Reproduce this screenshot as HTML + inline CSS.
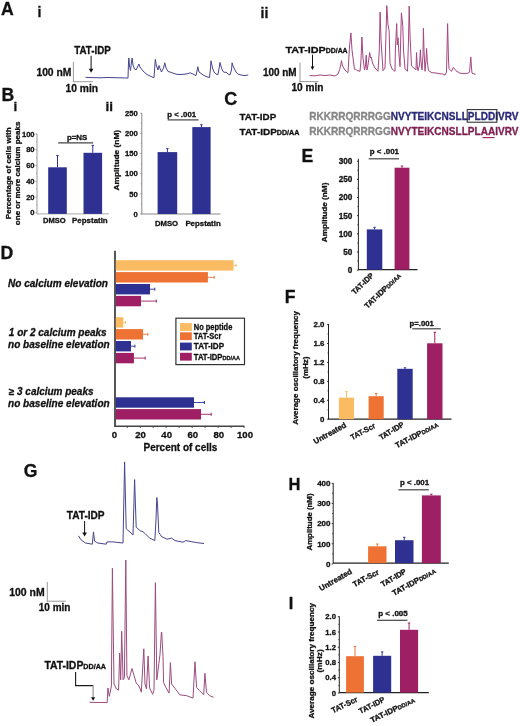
<!DOCTYPE html>
<html><head><meta charset="utf-8"><style>
html,body{margin:0;padding:0;background:#fff;}
body{width:520px;height:726px;overflow:hidden;}
svg{display:block;filter:blur(0.3px);font-family:"Liberation Sans",sans-serif;}
</style></head><body>
<svg width="520" height="726" viewBox="0 0 520 726">
<rect width="520" height="726" fill="#fff"/>
<text x="0.90" y="15.00" font-size="17.6" fill="#111" font-weight="bold" stroke="#111" stroke-width="0.3" stroke-linejoin="round" >A</text>
<text x="37.60" y="17.30" font-size="14" fill="#111" font-weight="bold" stroke="#111" stroke-width="0.3" stroke-linejoin="round" >i</text>
<text x="260.60" y="17.50" font-size="14" fill="#111" font-weight="bold" stroke="#111" stroke-width="0.3" stroke-linejoin="round" >ii</text>
<text x="1.40" y="101.30" font-size="17.6" fill="#111" font-weight="bold" stroke="#111" stroke-width="0.3" stroke-linejoin="round" >B</text>
<text x="13.40" y="111.40" font-size="13.5" fill="#111" font-weight="bold" stroke="#111" stroke-width="0.3" stroke-linejoin="round" >i</text>
<text x="105.60" y="110.80" font-size="13.5" fill="#111" font-weight="bold" stroke="#111" stroke-width="0.3" stroke-linejoin="round" >ii</text>
<text x="224.30" y="105.20" font-size="18" fill="#111" font-weight="bold" stroke="#111" stroke-width="0.3" stroke-linejoin="round" >C</text>
<text x="0.60" y="258.80" font-size="17.6" fill="#111" font-weight="bold" stroke="#111" stroke-width="0.3" stroke-linejoin="round" >D</text>
<text x="301.50" y="161.90" font-size="17.6" fill="#111" font-weight="bold" stroke="#111" stroke-width="0.3" stroke-linejoin="round" >E</text>
<text x="284.80" y="302.70" font-size="17.6" fill="#111" font-weight="bold" stroke="#111" stroke-width="0.3" stroke-linejoin="round" >F</text>
<text x="288.60" y="489.60" font-size="16.5" fill="#111" font-weight="bold" stroke="#111" stroke-width="0.3" stroke-linejoin="round" >H</text>
<text x="288.80" y="608.80" font-size="16.3" fill="#111" font-weight="bold" stroke="#111" stroke-width="0.3" stroke-linejoin="round" >I</text>
<text x="23.70" y="476.50" font-size="17.6" fill="#111" font-weight="bold" stroke="#111" stroke-width="0.3" stroke-linejoin="round" >G</text>
<text x="74.30" y="53.70" font-size="10.3" fill="#111" font-weight="bold" textLength="36.40" lengthAdjust="spacingAndGlyphs" stroke="#111" stroke-width="0.3" stroke-linejoin="round" >TAT-IDP</text>
<line x1="91.10" y1="55.80" x2="91.10" y2="69.30" stroke="#111" stroke-width="1"/>
<path d="M88.8,68.8 L93.39999999999999,68.8 L91.1,72.8 Z" fill="#111"/>
<text x="36.40" y="75.50" font-size="10" fill="#111" font-weight="bold" textLength="35.00" lengthAdjust="spacingAndGlyphs" stroke="#111" stroke-width="0.3" stroke-linejoin="round" >100 nM</text>
<line x1="73.40" y1="62.00" x2="73.40" y2="82.00" stroke="#999" stroke-width="1"/>
<line x1="72.90" y1="81.70" x2="92.90" y2="81.70" stroke="#999" stroke-width="1"/>
<text x="65.60" y="91.60" font-size="10.3" fill="#111" font-weight="bold" textLength="32.50" lengthAdjust="spacingAndGlyphs" stroke="#111" stroke-width="0.3" stroke-linejoin="round" >10 min</text>
<polyline points="85.5,77.3 92,77.6 100,77.8 108,77.5 115,77.7 122,77.9 128,78 128.5,62 128.9,58 129.5,66 130.5,70.5 131.5,62 132.1,58 133,65 134.5,69 136,70 138,66 138.8,64 140,67 143,71 147,74.5 152,77 154,77.6 155.3,59.4 156.5,66 158,70 159,65.5 160.2,69 161.5,72 163.5,68 164.8,62.8 166,68 168,71.5 170,72 172,72.8 174,73.4 176,74.2 180,74.5 185,74.2 188,73.5 190.4,72.9 193,74 196,75.6 197.2,70 197.8,66.8 199,72 203,74.9 206,76.5 209.5,77.6 210.5,68 211,60.8 212.5,68 214,72 216,74.2 218,74.5 219.3,67 220,62.4 221.5,68 223,71.5 225,72.5 226,72 228,74 230,74.9 231.5,70 232.1,62.8 233,66 234,68 236,72 238,74.2 241,75 245,75.6 248.3,74.9" fill="none" stroke="#45458f" stroke-width="1.0" stroke-linejoin="round" opacity="1"/>
<text x="285.40" y="52.50" font-size="9.9" fill="#111" font-weight="bold" textLength="62.20" lengthAdjust="spacingAndGlyphs" stroke="#111" stroke-width="0.3" stroke-linejoin="round" >TAT-IDP<tspan font-size="6.3">DD/AA</tspan></text>
<line x1="312.50" y1="54.70" x2="312.50" y2="67.10" stroke="#111" stroke-width="1"/>
<path d="M310.6,66.6 L314.4,66.6 L312.5,70 Z" fill="#111"/>
<text x="262.90" y="75.50" font-size="10" fill="#111" font-weight="bold" textLength="33.70" lengthAdjust="spacingAndGlyphs" stroke="#111" stroke-width="0.3" stroke-linejoin="round" >100 nM</text>
<line x1="300.00" y1="62.50" x2="300.00" y2="82.00" stroke="#999" stroke-width="1"/>
<line x1="299.50" y1="81.60" x2="318.50" y2="81.60" stroke="#999" stroke-width="1"/>
<text x="291.40" y="91.20" font-size="10.2" fill="#111" font-weight="bold" textLength="32.00" lengthAdjust="spacingAndGlyphs" stroke="#111" stroke-width="0.3" stroke-linejoin="round" >10 min</text>
<polyline points="309.6,75.5 315,75.8 320,75 325,75.5 330,75 335,76 338,74 339.7,69.3 340.5,66 341.5,60.6 342.5,66 345,70 348,72.7 349.5,47 350.9,33 352,50 354.5,69.3 355.5,69 357,70.5 360,71.3 361,60 361.9,37 363,58 364.5,70 365.5,66 366.2,55.2 367,70 368,65 369.7,52.5 370.5,58 371.3,57.2 372.5,63 375,68 378,71.3 379.3,50 380.1,12.1 381,40 383,70.7 385,68 386.8,5.7 388,25 389.1,30.3 390,63.3 392,69 395,71.3 395.4,49 396.7,23.6 397.3,45 398,37.7 399,55 400,66.6 401.4,12.8 402.8,26.2 403.5,50 405,68.6 407.5,71.3 408.5,40 409.2,6 410,35 411.5,66 414,68 416,70 416.5,52.5 417.2,65 418,70.7 419.5,65 420.4,49.8 421,62 422,70 423,55 423.4,28.3 424,50 425,71.3 426,60 426.6,48.5 427.3,62 428.5,70.7 432,72.7 436,73 440,73.7 443,74 445,75.1 446.5,72 447.6,23.6 448.5,60 449,68.8 451.5,71.25 453.3,67.4 456,70.8 460,73.2 464,73.5 468,73.2 469.5,72.2 470.8,57.1 471.5,68 472,73.2 475.6,74.4" fill="none" stroke="#a4467f" stroke-width="1.0" stroke-linejoin="round" opacity="1"/>
<line x1="37.00" y1="133.90" x2="37.00" y2="214.40" stroke="#999" stroke-width="1"/>
<line x1="35.50" y1="212.80" x2="37.00" y2="212.80" stroke="#999" stroke-width="0.9"/>
<text x="34.60" y="215.49" font-size="7.6" fill="#111" font-weight="bold" text-anchor="end" stroke="#111" stroke-width="0.3" stroke-linejoin="round" >0</text>
<line x1="35.50" y1="197.02" x2="37.00" y2="197.02" stroke="#999" stroke-width="0.9"/>
<text x="34.60" y="199.71" font-size="7.6" fill="#111" font-weight="bold" text-anchor="end" stroke="#111" stroke-width="0.3" stroke-linejoin="round" >20</text>
<line x1="35.50" y1="181.24" x2="37.00" y2="181.24" stroke="#999" stroke-width="0.9"/>
<text x="34.60" y="183.93" font-size="7.6" fill="#111" font-weight="bold" text-anchor="end" stroke="#111" stroke-width="0.3" stroke-linejoin="round" >40</text>
<line x1="35.50" y1="165.46" x2="37.00" y2="165.46" stroke="#999" stroke-width="0.9"/>
<text x="34.60" y="168.15" font-size="7.6" fill="#111" font-weight="bold" text-anchor="end" stroke="#111" stroke-width="0.3" stroke-linejoin="round" >60</text>
<line x1="35.50" y1="149.68" x2="37.00" y2="149.68" stroke="#999" stroke-width="0.9"/>
<text x="34.60" y="152.37" font-size="7.6" fill="#111" font-weight="bold" text-anchor="end" stroke="#111" stroke-width="0.3" stroke-linejoin="round" >80</text>
<line x1="35.50" y1="133.90" x2="37.00" y2="133.90" stroke="#999" stroke-width="0.9"/>
<text x="34.60" y="136.59" font-size="7.6" fill="#111" font-weight="bold" text-anchor="end" stroke="#111" stroke-width="0.3" stroke-linejoin="round" >100</text>
<line x1="36.00" y1="204.91" x2="37.00" y2="204.91" stroke="#999" stroke-width="0.8"/>
<line x1="36.00" y1="189.13" x2="37.00" y2="189.13" stroke="#999" stroke-width="0.8"/>
<line x1="36.00" y1="173.35" x2="37.00" y2="173.35" stroke="#999" stroke-width="0.8"/>
<line x1="36.00" y1="157.57" x2="37.00" y2="157.57" stroke="#999" stroke-width="0.8"/>
<line x1="36.00" y1="141.79" x2="37.00" y2="141.79" stroke="#999" stroke-width="0.8"/>
<line x1="37.00" y1="213.90" x2="109.00" y2="213.90" stroke="#aaa" stroke-width="1"/>
<rect x="48.20" y="167.30" width="18.60" height="46.60" fill="#2e3192"/>
<line x1="57.50" y1="155.50" x2="57.50" y2="167.30" stroke="#2e3192" stroke-width="1"/>
<line x1="56.30" y1="155.50" x2="58.70" y2="155.50" stroke="#2e3192" stroke-width="1"/>
<rect x="83.50" y="152.80" width="18.60" height="61.10" fill="#2e3192"/>
<line x1="92.80" y1="145.40" x2="92.80" y2="152.80" stroke="#2e3192" stroke-width="1"/>
<line x1="91.60" y1="145.40" x2="94.00" y2="145.40" stroke="#2e3192" stroke-width="1"/>
<line x1="58.20" y1="142.80" x2="93.20" y2="142.80" stroke="#444" stroke-width="1.2"/>
<text x="66.90" y="140.00" font-size="7.3" fill="#111" font-weight="bold" textLength="20.50" lengthAdjust="spacingAndGlyphs" stroke="#111" stroke-width="0.3" stroke-linejoin="round" >p=NS</text>
<text x="43.00" y="223.30" font-size="7.8" fill="#111" font-weight="bold" textLength="22.70" lengthAdjust="spacingAndGlyphs" stroke="#111" stroke-width="0.3" stroke-linejoin="round" >DMSO</text>
<text x="72.10" y="223.30" font-size="7.8" fill="#111" font-weight="bold" textLength="35.60" lengthAdjust="spacingAndGlyphs" stroke="#111" stroke-width="0.3" stroke-linejoin="round" >Pepstatin</text>
<text x="0" y="0" font-size="8.1" fill="#111" font-weight="bold" text-anchor="middle" textLength="91.90" lengthAdjust="spacingAndGlyphs" transform="translate(10.60,173.25) rotate(-90.00)" stroke="#111" stroke-width="0.3" stroke-linejoin="round" >Percentage of cells with</text>
<text x="0" y="0" font-size="8.1" fill="#111" font-weight="bold" text-anchor="middle" textLength="103.70" lengthAdjust="spacingAndGlyphs" transform="translate(20.20,173.35) rotate(-90.00)" stroke="#111" stroke-width="0.3" stroke-linejoin="round" >one or more calcium peaks</text>
<line x1="141.80" y1="113.10" x2="141.80" y2="214.50" stroke="#888" stroke-width="1"/>
<line x1="140.30" y1="214.00" x2="141.80" y2="214.00" stroke="#888" stroke-width="0.9"/>
<text x="137.80" y="216.73" font-size="7.7" fill="#111" font-weight="bold" text-anchor="end" stroke="#111" stroke-width="0.3" stroke-linejoin="round" >0</text>
<line x1="140.30" y1="193.84" x2="141.80" y2="193.84" stroke="#888" stroke-width="0.9"/>
<text x="137.80" y="196.57" font-size="7.7" fill="#111" font-weight="bold" text-anchor="end" stroke="#111" stroke-width="0.3" stroke-linejoin="round" >50</text>
<line x1="140.30" y1="173.68" x2="141.80" y2="173.68" stroke="#888" stroke-width="0.9"/>
<text x="137.80" y="176.41" font-size="7.7" fill="#111" font-weight="bold" text-anchor="end" stroke="#111" stroke-width="0.3" stroke-linejoin="round" >100</text>
<line x1="140.30" y1="153.52" x2="141.80" y2="153.52" stroke="#888" stroke-width="0.9"/>
<text x="137.80" y="156.25" font-size="7.7" fill="#111" font-weight="bold" text-anchor="end" stroke="#111" stroke-width="0.3" stroke-linejoin="round" >150</text>
<line x1="140.30" y1="133.36" x2="141.80" y2="133.36" stroke="#888" stroke-width="0.9"/>
<text x="137.80" y="136.09" font-size="7.7" fill="#111" font-weight="bold" text-anchor="end" stroke="#111" stroke-width="0.3" stroke-linejoin="round" >200</text>
<line x1="140.30" y1="113.20" x2="141.80" y2="113.20" stroke="#888" stroke-width="0.9"/>
<text x="137.80" y="115.93" font-size="7.7" fill="#111" font-weight="bold" text-anchor="end" stroke="#111" stroke-width="0.3" stroke-linejoin="round" >250</text>
<line x1="140.80" y1="203.92" x2="141.80" y2="203.92" stroke="#888" stroke-width="0.8"/>
<line x1="140.80" y1="183.76" x2="141.80" y2="183.76" stroke="#888" stroke-width="0.8"/>
<line x1="140.80" y1="163.60" x2="141.80" y2="163.60" stroke="#888" stroke-width="0.8"/>
<line x1="140.80" y1="143.44" x2="141.80" y2="143.44" stroke="#888" stroke-width="0.8"/>
<line x1="140.80" y1="123.28" x2="141.80" y2="123.28" stroke="#888" stroke-width="0.8"/>
<line x1="141.80" y1="214.00" x2="220.50" y2="214.00" stroke="#888" stroke-width="1"/>
<rect x="157.60" y="152.10" width="19.60" height="61.90" fill="#2e3192"/>
<line x1="167.40" y1="148.60" x2="167.40" y2="152.10" stroke="#2e3192" stroke-width="1"/>
<line x1="166.20" y1="148.60" x2="168.60" y2="148.60" stroke="#2e3192" stroke-width="1"/>
<rect x="192.30" y="127.10" width="18.30" height="86.90" fill="#2e3192"/>
<line x1="201.45" y1="124.70" x2="201.45" y2="127.10" stroke="#2e3192" stroke-width="1"/>
<line x1="200.25" y1="124.70" x2="202.65" y2="124.70" stroke="#2e3192" stroke-width="1"/>
<line x1="167.70" y1="119.90" x2="198.50" y2="119.90" stroke="#444" stroke-width="1.2"/>
<text x="167.20" y="116.50" font-size="7.4" fill="#111" font-weight="bold" textLength="28.90" lengthAdjust="spacingAndGlyphs" stroke="#111" stroke-width="0.3" stroke-linejoin="round" >p &lt; .001</text>
<text x="155.00" y="226.10" font-size="7.8" fill="#111" font-weight="bold" textLength="23.10" lengthAdjust="spacingAndGlyphs" stroke="#111" stroke-width="0.3" stroke-linejoin="round" >DMSO</text>
<text x="185.40" y="226.10" font-size="7.8" fill="#111" font-weight="bold" textLength="35.30" lengthAdjust="spacingAndGlyphs" stroke="#111" stroke-width="0.3" stroke-linejoin="round" >Pepstatin</text>
<text x="0" y="0" font-size="8.1" fill="#111" font-weight="bold" text-anchor="middle" textLength="60.60" lengthAdjust="spacingAndGlyphs" transform="translate(119.10,160.20) rotate(-90.00)" stroke="#111" stroke-width="0.3" stroke-linejoin="round" >Amplitude (nM)</text>
<text x="239.60" y="120.20" font-size="9.5" fill="#111" font-weight="bold" textLength="36.60" lengthAdjust="spacingAndGlyphs" stroke="#111" stroke-width="0.3" stroke-linejoin="round" >TAT-IDP</text>
<text x="239.60" y="135.00" font-size="9.5" fill="#111" font-weight="bold" textLength="59.70" lengthAdjust="spacingAndGlyphs" stroke="#111" stroke-width="0.3" stroke-linejoin="round" >TAT-IDP<tspan font-size="6.8">DD/AA</tspan></text>
<text x="309.20" y="120.40" font-size="10" fill="#111" font-weight="bold" textLength="209.30" lengthAdjust="spacingAndGlyphs" stroke="#111" stroke-width="0.3" stroke-linejoin="round" ><tspan stroke-width="0.3" fill="#858585" stroke="#858585">RKKRRQRRRGG</tspan><tspan stroke-width="0.3" fill="#2a2a78" stroke="#2a2a78">NVYTEIKCNSLLPLDDIVRV</tspan></text>
<text x="309.20" y="135.40" font-size="10" fill="#111" font-weight="bold" textLength="209.30" lengthAdjust="spacingAndGlyphs" stroke="#111" stroke-width="0.3" stroke-linejoin="round" ><tspan stroke-width="0.3" fill="#858585" stroke="#858585">RKKRRQRRRGG</tspan><tspan stroke-width="0.3" fill="#7e1e50" stroke="#7e1e50">NVYTEIKCNSLLPLAAIVRV</tspan></text>
<rect x="467.2" y="109.6" width="29.7" height="12.6" fill="none" stroke="#222" stroke-width="1"/>
<line x1="482.50" y1="137.60" x2="494.60" y2="137.60" stroke="#9e1f63" stroke-width="1.1"/>
<line x1="115.00" y1="250.80" x2="115.00" y2="426.80" stroke="#444" stroke-width="1.8"/>
<line x1="114.20" y1="426.20" x2="244.30" y2="426.20" stroke="#444" stroke-width="1.4"/>
<line x1="127.28" y1="426.20" x2="127.28" y2="428.00" stroke="#444" stroke-width="0.9"/>
<line x1="140.25" y1="426.20" x2="140.25" y2="428.00" stroke="#444" stroke-width="0.9"/>
<line x1="153.22" y1="426.20" x2="153.22" y2="428.00" stroke="#444" stroke-width="0.9"/>
<line x1="166.20" y1="426.20" x2="166.20" y2="428.00" stroke="#444" stroke-width="0.9"/>
<line x1="179.18" y1="426.20" x2="179.18" y2="428.00" stroke="#444" stroke-width="0.9"/>
<line x1="192.15" y1="426.20" x2="192.15" y2="428.00" stroke="#444" stroke-width="0.9"/>
<line x1="205.12" y1="426.20" x2="205.12" y2="428.00" stroke="#444" stroke-width="0.9"/>
<line x1="218.10" y1="426.20" x2="218.10" y2="428.00" stroke="#444" stroke-width="0.9"/>
<line x1="231.07" y1="426.20" x2="231.07" y2="428.00" stroke="#444" stroke-width="0.9"/>
<line x1="244.05" y1="426.20" x2="244.05" y2="428.00" stroke="#444" stroke-width="0.9"/>
<text x="114.40" y="437.50" font-size="9.6" fill="#111" font-weight="bold" text-anchor="middle" stroke="#111" stroke-width="0.3" stroke-linejoin="round" >0</text>
<text x="140.52" y="437.50" font-size="9.6" fill="#111" font-weight="bold" text-anchor="middle" stroke="#111" stroke-width="0.3" stroke-linejoin="round" >20</text>
<text x="166.64" y="437.50" font-size="9.6" fill="#111" font-weight="bold" text-anchor="middle" stroke="#111" stroke-width="0.3" stroke-linejoin="round" >40</text>
<text x="192.76" y="437.50" font-size="9.6" fill="#111" font-weight="bold" text-anchor="middle" stroke="#111" stroke-width="0.3" stroke-linejoin="round" >60</text>
<text x="218.88" y="437.50" font-size="9.6" fill="#111" font-weight="bold" text-anchor="middle" stroke="#111" stroke-width="0.3" stroke-linejoin="round" >80</text>
<text x="245.00" y="437.50" font-size="9.6" fill="#111" font-weight="bold" text-anchor="middle" stroke="#111" stroke-width="0.3" stroke-linejoin="round" >100</text>
<text x="143.50" y="451.30" font-size="10" fill="#111" font-weight="bold" textLength="73.80" lengthAdjust="spacingAndGlyphs" stroke="#111" stroke-width="0.3" stroke-linejoin="round" >Percent of cells</text>
<rect x="115.80" y="260.20" width="117.80" height="10.40" fill="#fbbb62"/>
<line x1="233.60" y1="265.40" x2="236.10" y2="265.40" stroke="#fbbb62" stroke-width="0.9"/>
<line x1="236.10" y1="263.90" x2="236.10" y2="266.90" stroke="#fbbb62" stroke-width="1"/>
<rect x="115.80" y="272.10" width="92.10" height="10.40" fill="#ee7233"/>
<line x1="207.90" y1="277.30" x2="214.20" y2="277.30" stroke="#ee7233" stroke-width="0.9"/>
<line x1="214.20" y1="275.80" x2="214.20" y2="278.80" stroke="#ee7233" stroke-width="1"/>
<rect x="115.80" y="284.00" width="34.20" height="10.40" fill="#2e3192"/>
<line x1="150.00" y1="289.20" x2="154.80" y2="289.20" stroke="#2e3192" stroke-width="0.9"/>
<line x1="154.80" y1="287.70" x2="154.80" y2="290.70" stroke="#2e3192" stroke-width="1"/>
<rect x="115.80" y="295.90" width="25.20" height="10.40" fill="#9e1f63"/>
<line x1="141.00" y1="301.10" x2="156.30" y2="301.10" stroke="#9e1f63" stroke-width="0.9"/>
<line x1="156.30" y1="299.60" x2="156.30" y2="302.60" stroke="#9e1f63" stroke-width="1"/>
<rect x="115.80" y="317.20" width="7.50" height="10.40" fill="#fbbb62"/>
<line x1="123.30" y1="322.40" x2="125.50" y2="322.40" stroke="#fbbb62" stroke-width="0.9"/>
<line x1="125.50" y1="320.90" x2="125.50" y2="323.90" stroke="#fbbb62" stroke-width="1"/>
<rect x="115.80" y="329.10" width="27.20" height="10.40" fill="#ee7233"/>
<line x1="143.00" y1="334.30" x2="147.80" y2="334.30" stroke="#ee7233" stroke-width="0.9"/>
<line x1="147.80" y1="332.80" x2="147.80" y2="335.80" stroke="#ee7233" stroke-width="1"/>
<rect x="115.80" y="341.00" width="15.20" height="10.40" fill="#2e3192"/>
<line x1="131.00" y1="346.20" x2="134.90" y2="346.20" stroke="#2e3192" stroke-width="0.9"/>
<line x1="134.90" y1="344.70" x2="134.90" y2="347.70" stroke="#2e3192" stroke-width="1"/>
<rect x="115.80" y="352.90" width="18.10" height="10.40" fill="#9e1f63"/>
<line x1="133.90" y1="358.10" x2="145.20" y2="358.10" stroke="#9e1f63" stroke-width="0.9"/>
<line x1="145.20" y1="356.60" x2="145.20" y2="359.60" stroke="#9e1f63" stroke-width="1"/>
<rect x="115.80" y="397.30" width="78.20" height="10.40" fill="#2e3192"/>
<line x1="194.00" y1="402.50" x2="204.40" y2="402.50" stroke="#2e3192" stroke-width="0.9"/>
<line x1="204.40" y1="401.00" x2="204.40" y2="404.00" stroke="#2e3192" stroke-width="1"/>
<rect x="115.80" y="409.10" width="85.20" height="10.40" fill="#9e1f63"/>
<line x1="201.00" y1="414.30" x2="211.20" y2="414.30" stroke="#9e1f63" stroke-width="0.9"/>
<line x1="211.20" y1="412.80" x2="211.20" y2="415.80" stroke="#9e1f63" stroke-width="1"/>
<text x="8.00" y="286.90" font-size="10" fill="#111" font-weight="bold" font-style="italic" textLength="100.00" lengthAdjust="spacingAndGlyphs" stroke="#111" stroke-width="0.3" stroke-linejoin="round" >No calcium elevation</text>
<text x="8.80" y="336.20" font-size="10" fill="#111" font-weight="bold" font-style="italic" textLength="97.90" lengthAdjust="spacingAndGlyphs" stroke="#111" stroke-width="0.3" stroke-linejoin="round" >1 or 2 calcium peaks</text>
<text x="8.00" y="347.70" font-size="10" fill="#111" font-weight="bold" font-style="italic" textLength="101.70" lengthAdjust="spacingAndGlyphs" stroke="#111" stroke-width="0.3" stroke-linejoin="round" >no baseline elevation</text>
<text x="8.80" y="395.00" font-size="10" fill="#111" font-weight="bold" font-style="italic" textLength="84.70" lengthAdjust="spacingAndGlyphs" stroke="#111" stroke-width="0.3" stroke-linejoin="round" >≥ 3 calcium peaks</text>
<text x="8.00" y="406.60" font-size="10" fill="#111" font-weight="bold" font-style="italic" textLength="101.70" lengthAdjust="spacingAndGlyphs" stroke="#111" stroke-width="0.3" stroke-linejoin="round" >no baseline elevation</text>
<rect x="175.9" y="318.2" width="68.6" height="46.4" fill="#fff" stroke="#333" stroke-width="1.2"/>
<rect x="180.00" y="323.10" width="11.80" height="7.80" fill="#fbbb62"/>
<text x="193.80" y="329.70" font-size="8.3" fill="#111" font-weight="bold" textLength="38.50" lengthAdjust="spacingAndGlyphs" stroke="#111" stroke-width="0.3" stroke-linejoin="round" >No peptide</text>
<rect x="180.00" y="332.30" width="11.80" height="7.80" fill="#ee7233"/>
<text x="193.80" y="338.90" font-size="8.3" fill="#111" font-weight="bold" textLength="27.50" lengthAdjust="spacingAndGlyphs" stroke="#111" stroke-width="0.3" stroke-linejoin="round" >TAT-Scr</text>
<rect x="180.00" y="342.60" width="11.80" height="7.80" fill="#2e3192"/>
<text x="193.80" y="349.20" font-size="8.3" fill="#111" font-weight="bold" textLength="30.30" lengthAdjust="spacingAndGlyphs" stroke="#111" stroke-width="0.3" stroke-linejoin="round" >TAT-IDP</text>
<rect x="180.00" y="352.80" width="11.80" height="7.80" fill="#9e1f63"/>
<text x="193.80" y="359.60" font-size="8.3" fill="#111" font-weight="bold" textLength="46.20" lengthAdjust="spacingAndGlyphs" stroke="#111" stroke-width="0.3" stroke-linejoin="round" >TAT-IDP<tspan font-size="6.0">DD/AA</tspan></text>
<line x1="358.40" y1="158.80" x2="358.40" y2="270.20" stroke="#222" stroke-width="1"/>
<line x1="356.90" y1="270.10" x2="358.40" y2="270.10" stroke="#222" stroke-width="0.9"/>
<text x="352.40" y="273.00" font-size="8.2" fill="#111" font-weight="bold" text-anchor="end" stroke="#111" stroke-width="0.3" stroke-linejoin="round" >0</text>
<line x1="356.90" y1="251.95" x2="358.40" y2="251.95" stroke="#222" stroke-width="0.9"/>
<text x="352.40" y="254.85" font-size="8.2" fill="#111" font-weight="bold" text-anchor="end" stroke="#111" stroke-width="0.3" stroke-linejoin="round" >50</text>
<line x1="356.90" y1="233.80" x2="358.40" y2="233.80" stroke="#222" stroke-width="0.9"/>
<text x="352.40" y="236.70" font-size="8.2" fill="#111" font-weight="bold" text-anchor="end" stroke="#111" stroke-width="0.3" stroke-linejoin="round" >100</text>
<line x1="356.90" y1="215.65" x2="358.40" y2="215.65" stroke="#222" stroke-width="0.9"/>
<text x="352.40" y="218.55" font-size="8.2" fill="#111" font-weight="bold" text-anchor="end" stroke="#111" stroke-width="0.3" stroke-linejoin="round" >150</text>
<line x1="356.90" y1="197.50" x2="358.40" y2="197.50" stroke="#222" stroke-width="0.9"/>
<text x="352.40" y="200.40" font-size="8.2" fill="#111" font-weight="bold" text-anchor="end" stroke="#111" stroke-width="0.3" stroke-linejoin="round" >200</text>
<line x1="356.90" y1="179.35" x2="358.40" y2="179.35" stroke="#222" stroke-width="0.9"/>
<text x="352.40" y="182.25" font-size="8.2" fill="#111" font-weight="bold" text-anchor="end" stroke="#111" stroke-width="0.3" stroke-linejoin="round" >250</text>
<line x1="356.90" y1="161.20" x2="358.40" y2="161.20" stroke="#222" stroke-width="0.9"/>
<text x="352.40" y="164.10" font-size="8.2" fill="#111" font-weight="bold" text-anchor="end" stroke="#111" stroke-width="0.3" stroke-linejoin="round" >300</text>
<line x1="357.40" y1="261.03" x2="358.40" y2="261.03" stroke="#222" stroke-width="0.8"/>
<line x1="357.40" y1="242.88" x2="358.40" y2="242.88" stroke="#222" stroke-width="0.8"/>
<line x1="357.40" y1="224.73" x2="358.40" y2="224.73" stroke="#222" stroke-width="0.8"/>
<line x1="357.40" y1="206.57" x2="358.40" y2="206.57" stroke="#222" stroke-width="0.8"/>
<line x1="357.40" y1="188.43" x2="358.40" y2="188.43" stroke="#222" stroke-width="0.8"/>
<line x1="357.40" y1="170.27" x2="358.40" y2="170.27" stroke="#222" stroke-width="0.8"/>
<line x1="358.40" y1="269.70" x2="417.50" y2="269.70" stroke="#222" stroke-width="1.3"/>
<rect x="366.80" y="229.40" width="15.50" height="40.30" fill="#2e3192"/>
<line x1="374.55" y1="227.30" x2="374.55" y2="229.40" stroke="#2e3192" stroke-width="1"/>
<line x1="373.35" y1="227.30" x2="375.75" y2="227.30" stroke="#2e3192" stroke-width="1"/>
<rect x="394.60" y="167.70" width="14.80" height="102.00" fill="#9e1f63"/>
<line x1="402.00" y1="166.00" x2="402.00" y2="167.70" stroke="#9e1f63" stroke-width="1"/>
<line x1="400.80" y1="166.00" x2="403.20" y2="166.00" stroke="#9e1f63" stroke-width="1"/>
<line x1="368.70" y1="158.80" x2="399.00" y2="158.80" stroke="#444" stroke-width="1.2"/>
<text x="369.70" y="153.60" font-size="7.2" fill="#111" font-weight="bold" textLength="29.30" lengthAdjust="spacingAndGlyphs" stroke="#111" stroke-width="0.3" stroke-linejoin="round" >p &lt; .001</text>
<text x="0" y="0" font-size="8.1" fill="#111" font-weight="bold" text-anchor="middle" textLength="59.70" lengthAdjust="spacingAndGlyphs" transform="translate(326.80,212.45) rotate(-90.00)" stroke="#111" stroke-width="0.3" stroke-linejoin="round" >Amplitude (nM)</text>
<text x="0" y="0" font-size="7.8" fill="#111" font-weight="bold" text-anchor="end" textLength="27.03" lengthAdjust="spacingAndGlyphs" transform="translate(374.30,276.17) rotate(-43.88)" stroke="#111" stroke-width="0.3" stroke-linejoin="round" >TAT-IDP</text>
<text x="0" y="0" font-size="7.8" fill="#111" font-weight="bold" text-anchor="end" textLength="47.17" lengthAdjust="spacingAndGlyphs" transform="translate(401.50,276.27) rotate(-43.93)" stroke="#111" stroke-width="0.3" stroke-linejoin="round" >TAT-IDP<tspan font-size="5.8">DD/AA</tspan></text>
<line x1="328.50" y1="323.90" x2="328.50" y2="419.70" stroke="#222" stroke-width="1"/>
<line x1="327.00" y1="419.20" x2="328.50" y2="419.20" stroke="#222" stroke-width="0.9"/>
<text x="324.50" y="422.00" font-size="7.9" fill="#111" font-weight="bold" text-anchor="end" stroke="#111" stroke-width="0.3" stroke-linejoin="round" >0</text>
<line x1="327.00" y1="400.28" x2="328.50" y2="400.28" stroke="#222" stroke-width="0.9"/>
<text x="324.50" y="403.08" font-size="7.9" fill="#111" font-weight="bold" text-anchor="end" stroke="#111" stroke-width="0.3" stroke-linejoin="round" >0.4</text>
<line x1="327.00" y1="381.36" x2="328.50" y2="381.36" stroke="#222" stroke-width="0.9"/>
<text x="324.50" y="384.16" font-size="7.9" fill="#111" font-weight="bold" text-anchor="end" stroke="#111" stroke-width="0.3" stroke-linejoin="round" >0.8</text>
<line x1="327.00" y1="362.44" x2="328.50" y2="362.44" stroke="#222" stroke-width="0.9"/>
<text x="324.50" y="365.24" font-size="7.9" fill="#111" font-weight="bold" text-anchor="end" stroke="#111" stroke-width="0.3" stroke-linejoin="round" >1.2</text>
<line x1="327.00" y1="343.52" x2="328.50" y2="343.52" stroke="#222" stroke-width="0.9"/>
<text x="324.50" y="346.32" font-size="7.9" fill="#111" font-weight="bold" text-anchor="end" stroke="#111" stroke-width="0.3" stroke-linejoin="round" >1.6</text>
<line x1="327.00" y1="324.60" x2="328.50" y2="324.60" stroke="#222" stroke-width="0.9"/>
<text x="324.50" y="327.40" font-size="7.9" fill="#111" font-weight="bold" text-anchor="end" stroke="#111" stroke-width="0.3" stroke-linejoin="round" >2.0</text>
<line x1="327.50" y1="409.74" x2="328.50" y2="409.74" stroke="#222" stroke-width="0.8"/>
<line x1="327.50" y1="390.82" x2="328.50" y2="390.82" stroke="#222" stroke-width="0.8"/>
<line x1="327.50" y1="371.90" x2="328.50" y2="371.90" stroke="#222" stroke-width="0.8"/>
<line x1="327.50" y1="352.98" x2="328.50" y2="352.98" stroke="#222" stroke-width="0.8"/>
<line x1="327.50" y1="334.06" x2="328.50" y2="334.06" stroke="#222" stroke-width="0.8"/>
<line x1="328.50" y1="419.20" x2="451.50" y2="419.20" stroke="#222" stroke-width="1.3"/>
<rect x="338.90" y="397.60" width="15.10" height="21.60" fill="#fbbb62"/>
<line x1="346.45" y1="391.60" x2="346.45" y2="397.60" stroke="#fbbb62" stroke-width="1"/>
<line x1="345.25" y1="391.60" x2="347.65" y2="391.60" stroke="#fbbb62" stroke-width="1"/>
<rect x="368.60" y="396.20" width="15.10" height="23.00" fill="#ee7233"/>
<line x1="376.15" y1="393.50" x2="376.15" y2="396.20" stroke="#ee7233" stroke-width="1"/>
<line x1="374.95" y1="393.50" x2="377.35" y2="393.50" stroke="#ee7233" stroke-width="1"/>
<rect x="397.30" y="368.80" width="15.40" height="50.40" fill="#2e3192"/>
<line x1="405.00" y1="367.80" x2="405.00" y2="368.80" stroke="#2e3192" stroke-width="1"/>
<line x1="403.80" y1="367.80" x2="406.20" y2="367.80" stroke="#2e3192" stroke-width="1"/>
<rect x="427.10" y="343.30" width="15.40" height="75.90" fill="#9e1f63"/>
<line x1="434.80" y1="332.30" x2="434.80" y2="343.30" stroke="#9e1f63" stroke-width="1"/>
<line x1="433.60" y1="332.30" x2="436.00" y2="332.30" stroke="#9e1f63" stroke-width="1"/>
<line x1="412.30" y1="328.80" x2="440.80" y2="328.80" stroke="#444" stroke-width="1.2"/>
<text x="409.60" y="325.50" font-size="7.3" fill="#111" font-weight="bold" textLength="24.20" lengthAdjust="spacingAndGlyphs" stroke="#111" stroke-width="0.3" stroke-linejoin="round" >p=.001</text>
<text x="0" y="0" font-size="8.1" fill="#111" font-weight="bold" text-anchor="middle" textLength="113.80" lengthAdjust="spacingAndGlyphs" transform="translate(298.30,367.90) rotate(-90.00)" stroke="#111" stroke-width="0.3" stroke-linejoin="round" >Average oscillatory frequency</text>
<text x="0" y="0" font-size="8.1" fill="#111" font-weight="bold" text-anchor="middle" textLength="22.20" lengthAdjust="spacingAndGlyphs" transform="translate(308.30,367.60) rotate(-90.00)" stroke="#111" stroke-width="0.3" stroke-linejoin="round" >(mHz)</text>
<text x="0" y="0" font-size="7.8" fill="#111" font-weight="bold" text-anchor="end" textLength="36.22" lengthAdjust="spacingAndGlyphs" transform="translate(347.00,426.70) rotate(-28.90)" stroke="#111" stroke-width="0.3" stroke-linejoin="round" >Untreated</text>
<text x="0" y="0" font-size="7.8" fill="#111" font-weight="bold" text-anchor="end" textLength="26.97" lengthAdjust="spacingAndGlyphs" transform="translate(376.00,427.43) rotate(-28.26)" stroke="#111" stroke-width="0.3" stroke-linejoin="round" >TAT-Scr</text>
<text x="0" y="0" font-size="7.8" fill="#111" font-weight="bold" text-anchor="end" textLength="27.39" lengthAdjust="spacingAndGlyphs" transform="translate(404.60,425.99) rotate(-31.26)" stroke="#111" stroke-width="0.3" stroke-linejoin="round" >TAT-IDP</text>
<text x="0" y="0" font-size="7.8" fill="#111" font-weight="bold" text-anchor="end" textLength="47.36" lengthAdjust="spacingAndGlyphs" transform="translate(438.90,426.23) rotate(-27.78)" stroke="#111" stroke-width="0.3" stroke-linejoin="round" >TAT-IDP<tspan font-size="5.8">DD/AA</tspan></text>
<text x="66.80" y="518.50" font-size="10.2" fill="#111" font-weight="bold" textLength="37.80" lengthAdjust="spacingAndGlyphs" stroke="#111" stroke-width="0.3" stroke-linejoin="round" >TAT-IDP</text>
<line x1="84.60" y1="521.00" x2="84.60" y2="533.00" stroke="#111" stroke-width="1"/>
<path d="M82.3,532.5 L86.89999999999999,532.5 L84.6,536.5 Z" fill="#111"/>
<polyline points="78.5,535.8 80.8,539.6 85.4,543 92.3,544.2 93.5,531.9 94.6,541.2 97.7,543 106.2,544.2 106.9,541.9 113,541.9 118,542.5 123,543 124.6,461.9 125.5,500 126.2,528.8 130,532 133,535 134.6,479.6 136.2,527.3 140.8,531.2 142,531.1 145.4,533.8 149.4,537.9 154.8,540.6 156,520 156.8,497.5 157.5,504 158.8,532.5 161.5,536.5 167,539.2 171.6,538.1 175,540.6 183,542.2 185.8,540.6 191.1,541.6 196.5,542.6 204,543.5" fill="none" stroke="#45458f" stroke-width="1.0" stroke-linejoin="round" opacity="1"/>
<text x="9.20" y="595.90" font-size="10" fill="#111" font-weight="bold" textLength="35.40" lengthAdjust="spacingAndGlyphs" stroke="#111" stroke-width="0.3" stroke-linejoin="round" >100 nM</text>
<line x1="47.30" y1="582.00" x2="47.30" y2="601.60" stroke="#999" stroke-width="1"/>
<line x1="46.80" y1="601.20" x2="65.80" y2="601.20" stroke="#999" stroke-width="1"/>
<text x="38.80" y="611.00" font-size="10" fill="#111" font-weight="bold" textLength="31.60" lengthAdjust="spacingAndGlyphs" stroke="#111" stroke-width="0.3" stroke-linejoin="round" >10 min</text>
<text x="44.40" y="668.80" font-size="10.2" fill="#111" font-weight="bold" textLength="61.60" lengthAdjust="spacingAndGlyphs" stroke="#111" stroke-width="0.3" stroke-linejoin="round" >TAT-IDP<tspan font-size="7.0">DD/AA</tspan></text>
<polyline points="75.6,672 75.6,685.6 93.1,685.6" fill="none" stroke="#1a1a1a" stroke-width="1.1"/>
<line x1="93.10" y1="685.60" x2="93.10" y2="697.60" stroke="#8a8a8a" stroke-width="1.1"/>
<path d="M91.0,697.2 L95.2,697.2 L93.1,700.8 Z" fill="#111"/>
<polyline points="89.6,702.3 107.2,702.6 107.9,688 109.3,696.4 111.4,686 112.4,568.3 114,684 116.5,689 118.6,690.2 119.6,653 120.7,679.8 121.7,631.3 123.1,679.8 124.4,677.8 125.8,560 126.9,675.7 128.9,679.8 132,668.5 134.1,675.7 136.2,683 138.2,685 140.3,689 141.3,692.2 143.8,648.8 145,684 146.5,689 148.1,656 149.6,688 152.7,694.3 154,690 155.4,582.7 156.8,679.8 158.9,663.3 160,654.4 161.4,632.3 161.7,632 163,656 163.6,682.4 165.8,687.4 169.1,693.1 170.4,662.6 171.6,684 174.9,688.2 179.8,694.8 183.1,695.3 186.4,695.6 193,698.1 195,661.8 196.6,687.4 199.6,690.7 203.7,694.8 204.9,673.3 206.5,692.3 209.5,695.6 213.6,697.3" fill="none" stroke="#9c4c7e" stroke-width="1.0" stroke-linejoin="round" opacity="1"/>
<line x1="333.20" y1="483.10" x2="333.20" y2="563.60" stroke="#222" stroke-width="1"/>
<line x1="331.70" y1="563.90" x2="333.20" y2="563.90" stroke="#222" stroke-width="0.9"/>
<text x="330.50" y="566.73" font-size="8.0" fill="#111" font-weight="bold" text-anchor="end" stroke="#111" stroke-width="0.3" stroke-linejoin="round" >0</text>
<line x1="331.70" y1="543.75" x2="333.20" y2="543.75" stroke="#222" stroke-width="0.9"/>
<text x="330.50" y="546.58" font-size="8.0" fill="#111" font-weight="bold" text-anchor="end" stroke="#111" stroke-width="0.3" stroke-linejoin="round" >100</text>
<line x1="331.70" y1="523.60" x2="333.20" y2="523.60" stroke="#222" stroke-width="0.9"/>
<text x="330.50" y="526.43" font-size="8.0" fill="#111" font-weight="bold" text-anchor="end" stroke="#111" stroke-width="0.3" stroke-linejoin="round" >200</text>
<line x1="331.70" y1="503.45" x2="333.20" y2="503.45" stroke="#222" stroke-width="0.9"/>
<text x="330.50" y="506.28" font-size="8.0" fill="#111" font-weight="bold" text-anchor="end" stroke="#111" stroke-width="0.3" stroke-linejoin="round" >300</text>
<line x1="331.70" y1="483.30" x2="333.20" y2="483.30" stroke="#222" stroke-width="0.9"/>
<text x="330.50" y="486.13" font-size="8.0" fill="#111" font-weight="bold" text-anchor="end" stroke="#111" stroke-width="0.3" stroke-linejoin="round" >400</text>
<line x1="332.20" y1="553.83" x2="333.20" y2="553.83" stroke="#222" stroke-width="0.8"/>
<line x1="332.20" y1="533.67" x2="333.20" y2="533.67" stroke="#222" stroke-width="0.8"/>
<line x1="332.20" y1="513.52" x2="333.20" y2="513.52" stroke="#222" stroke-width="0.8"/>
<line x1="332.20" y1="493.38" x2="333.20" y2="493.38" stroke="#222" stroke-width="0.8"/>
<line x1="333.20" y1="563.10" x2="448.80" y2="563.10" stroke="#222" stroke-width="1.3"/>
<rect x="368.10" y="546.30" width="18.40" height="16.80" fill="#ee7233"/>
<line x1="377.30" y1="544.00" x2="377.30" y2="546.30" stroke="#ee7233" stroke-width="1"/>
<line x1="376.10" y1="544.00" x2="378.50" y2="544.00" stroke="#ee7233" stroke-width="1"/>
<rect x="395.00" y="540.20" width="18.50" height="22.90" fill="#2e3192"/>
<line x1="404.25" y1="537.30" x2="404.25" y2="540.20" stroke="#2e3192" stroke-width="1"/>
<line x1="403.05" y1="537.30" x2="405.45" y2="537.30" stroke="#2e3192" stroke-width="1"/>
<rect x="421.90" y="495.40" width="18.90" height="67.70" fill="#9e1f63"/>
<line x1="431.35" y1="494.20" x2="431.35" y2="495.40" stroke="#9e1f63" stroke-width="1"/>
<line x1="430.15" y1="494.20" x2="432.55" y2="494.20" stroke="#9e1f63" stroke-width="1"/>
<line x1="398.40" y1="489.80" x2="428.80" y2="489.80" stroke="#444" stroke-width="1.2"/>
<text x="399.90" y="484.90" font-size="7.6" fill="#111" font-weight="bold" textLength="29.30" lengthAdjust="spacingAndGlyphs" stroke="#111" stroke-width="0.3" stroke-linejoin="round" >p &lt; .001</text>
<text x="0" y="0" font-size="8.0" fill="#111" font-weight="bold" text-anchor="middle" textLength="57.00" lengthAdjust="spacingAndGlyphs" transform="translate(312.40,522.00) rotate(-90.00)" stroke="#111" stroke-width="0.3" stroke-linejoin="round" >Amplitude (nM)</text>
<text x="0" y="0" font-size="7.8" fill="#111" font-weight="bold" text-anchor="end" textLength="36.51" lengthAdjust="spacingAndGlyphs" transform="translate(352.70,573.05) rotate(-30.00)" stroke="#111" stroke-width="0.3" stroke-linejoin="round" >Untreated</text>
<text x="0" y="0" font-size="7.8" fill="#111" font-weight="bold" text-anchor="end" textLength="28.45" lengthAdjust="spacingAndGlyphs" transform="translate(379.60,573.73) rotate(-28.27)" stroke="#111" stroke-width="0.3" stroke-linejoin="round" >TAT-Scr</text>
<text x="0" y="0" font-size="7.8" fill="#111" font-weight="bold" text-anchor="end" textLength="28.03" lengthAdjust="spacingAndGlyphs" transform="translate(406.90,573.03) rotate(-30.36)" stroke="#111" stroke-width="0.3" stroke-linejoin="round" >TAT-IDP</text>
<text x="0" y="0" font-size="7.8" fill="#111" font-weight="bold" text-anchor="end" textLength="48.48" lengthAdjust="spacingAndGlyphs" transform="translate(436.50,572.49) rotate(-29.01)" stroke="#111" stroke-width="0.3" stroke-linejoin="round" >TAT-IDP<tspan font-size="5.8">DD/AA</tspan></text>
<line x1="339.30" y1="616.30" x2="339.30" y2="693.10" stroke="#222" stroke-width="1"/>
<line x1="337.80" y1="693.00" x2="339.30" y2="693.00" stroke="#222" stroke-width="0.9"/>
<text x="336.00" y="695.73" font-size="7.7" fill="#111" font-weight="bold" text-anchor="end" stroke="#111" stroke-width="0.3" stroke-linejoin="round" >0</text>
<line x1="337.80" y1="677.74" x2="339.30" y2="677.74" stroke="#222" stroke-width="0.9"/>
<text x="336.00" y="680.47" font-size="7.7" fill="#111" font-weight="bold" text-anchor="end" stroke="#111" stroke-width="0.3" stroke-linejoin="round" >0.4</text>
<line x1="337.80" y1="662.48" x2="339.30" y2="662.48" stroke="#222" stroke-width="0.9"/>
<text x="336.00" y="665.21" font-size="7.7" fill="#111" font-weight="bold" text-anchor="end" stroke="#111" stroke-width="0.3" stroke-linejoin="round" >0.8</text>
<line x1="337.80" y1="647.22" x2="339.30" y2="647.22" stroke="#222" stroke-width="0.9"/>
<text x="336.00" y="649.95" font-size="7.7" fill="#111" font-weight="bold" text-anchor="end" stroke="#111" stroke-width="0.3" stroke-linejoin="round" >1.2</text>
<line x1="337.80" y1="631.96" x2="339.30" y2="631.96" stroke="#222" stroke-width="0.9"/>
<text x="336.00" y="634.69" font-size="7.7" fill="#111" font-weight="bold" text-anchor="end" stroke="#111" stroke-width="0.3" stroke-linejoin="round" >1.6</text>
<line x1="337.80" y1="616.70" x2="339.30" y2="616.70" stroke="#222" stroke-width="0.9"/>
<text x="336.00" y="619.43" font-size="7.7" fill="#111" font-weight="bold" text-anchor="end" stroke="#111" stroke-width="0.3" stroke-linejoin="round" >2.0</text>
<line x1="338.30" y1="685.37" x2="339.30" y2="685.37" stroke="#222" stroke-width="0.8"/>
<line x1="338.30" y1="670.11" x2="339.30" y2="670.11" stroke="#222" stroke-width="0.8"/>
<line x1="338.30" y1="654.85" x2="339.30" y2="654.85" stroke="#222" stroke-width="0.8"/>
<line x1="338.30" y1="639.59" x2="339.30" y2="639.59" stroke="#222" stroke-width="0.8"/>
<line x1="338.30" y1="624.33" x2="339.30" y2="624.33" stroke="#222" stroke-width="0.8"/>
<line x1="339.30" y1="692.60" x2="428.80" y2="692.60" stroke="#222" stroke-width="1.3"/>
<rect x="346.10" y="656.20" width="17.80" height="36.40" fill="#ee7233"/>
<line x1="355.00" y1="646.50" x2="355.00" y2="656.20" stroke="#ee7233" stroke-width="1"/>
<line x1="353.80" y1="646.50" x2="356.20" y2="646.50" stroke="#ee7233" stroke-width="1"/>
<rect x="373.10" y="655.80" width="18.10" height="36.80" fill="#2e3192"/>
<line x1="382.15" y1="651.90" x2="382.15" y2="655.80" stroke="#2e3192" stroke-width="1"/>
<line x1="380.95" y1="651.90" x2="383.35" y2="651.90" stroke="#2e3192" stroke-width="1"/>
<rect x="400.00" y="629.80" width="18.10" height="62.80" fill="#9e1f63"/>
<line x1="409.05" y1="623.00" x2="409.05" y2="629.80" stroke="#9e1f63" stroke-width="1"/>
<line x1="407.85" y1="623.00" x2="410.25" y2="623.00" stroke="#9e1f63" stroke-width="1"/>
<line x1="377.00" y1="620.30" x2="407.40" y2="620.30" stroke="#444" stroke-width="1.2"/>
<text x="378.20" y="615.60" font-size="7.3" fill="#111" font-weight="bold" textLength="29.60" lengthAdjust="spacingAndGlyphs" stroke="#111" stroke-width="0.3" stroke-linejoin="round" >p &lt; .005</text>
<text x="0" y="0" font-size="8.1" fill="#111" font-weight="bold" text-anchor="middle" textLength="115.40" lengthAdjust="spacingAndGlyphs" transform="translate(313.50,660.80) rotate(-90.00)" stroke="#111" stroke-width="0.3" stroke-linejoin="round" >Average oscillatory frequency</text>
<text x="0" y="0" font-size="8.1" fill="#111" font-weight="bold" text-anchor="middle" textLength="23.10" lengthAdjust="spacingAndGlyphs" transform="translate(322.00,660.85) rotate(-90.00)" stroke="#111" stroke-width="0.3" stroke-linejoin="round" >(mHz)</text>
<text x="0" y="0" font-size="7.8" fill="#111" font-weight="bold" text-anchor="end" textLength="27.79" lengthAdjust="spacingAndGlyphs" transform="translate(358.10,701.24) rotate(-25.48)" stroke="#111" stroke-width="0.3" stroke-linejoin="round" >TAT-Scr</text>
<text x="0" y="0" font-size="7.8" fill="#111" font-weight="bold" text-anchor="end" textLength="28.09" lengthAdjust="spacingAndGlyphs" transform="translate(385.50,701.16) rotate(-27.43)" stroke="#111" stroke-width="0.3" stroke-linejoin="round" >TAT-IDP</text>
<text x="0" y="0" font-size="7.8" fill="#111" font-weight="bold" text-anchor="end" textLength="48.53" lengthAdjust="spacingAndGlyphs" transform="translate(415.60,701.79) rotate(-25.91)" stroke="#111" stroke-width="0.3" stroke-linejoin="round" >TAT-IDP<tspan font-size="5.8">DD/AA</tspan></text>
</svg>
</body></html>
